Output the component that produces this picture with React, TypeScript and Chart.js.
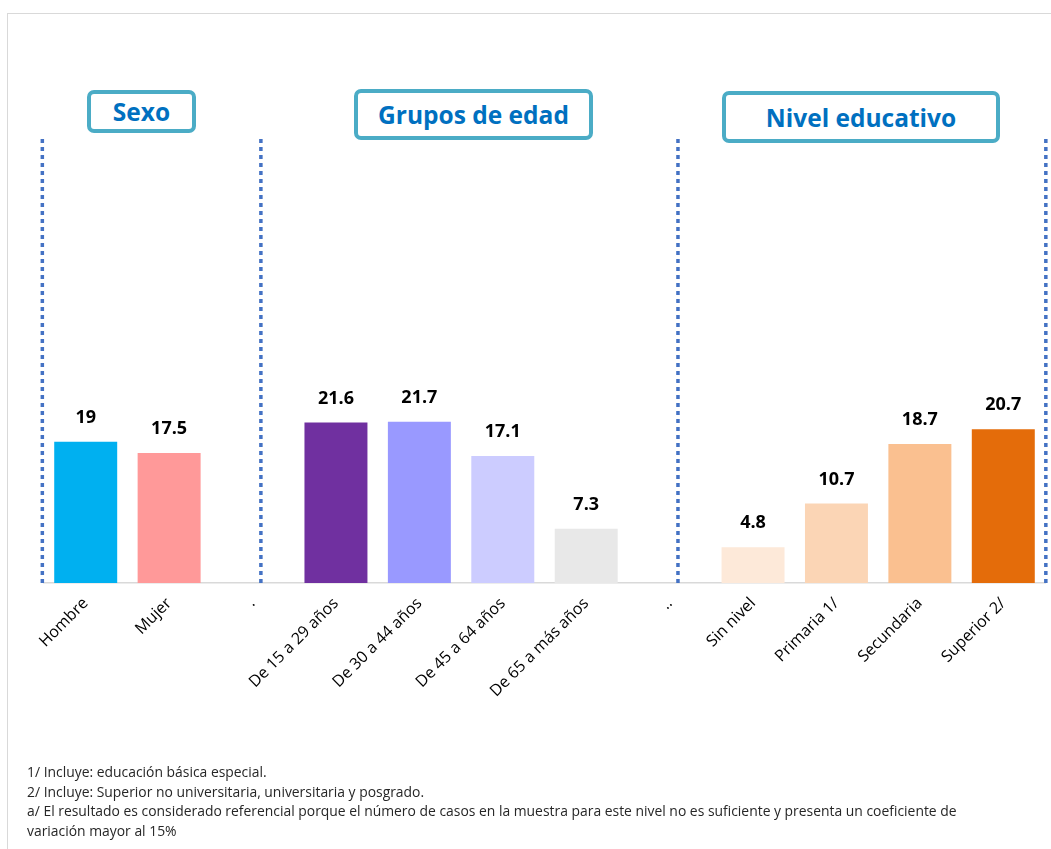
import React, { useEffect, useRef } from "react";
import { Chart, registerables } from "chart.js";

Chart.register(...registerables);

const categories = [
  "Hombre",
  "Mujer",
  ".",
  "De 15 a 29 años",
  "De 30 a 44 años",
  "De 45 a 64 años",
  "De 65 a más años",
  "..",
  "Sin nivel",
  "Primaria 1/",
  "Secundaria",
  "Superior 2/",
];
const values: (number | null)[] = [19, 17.5, null, 21.6, 21.7, 17.1, 7.3, null, 4.8, 10.7, 18.7, 20.7];
const barColors = [
  "#00B0F0",
  "#FF9999",
  "#FFFFFF",
  "#7030A0",
  "#9999FF",
  "#CCCCFF",
  "#E8E8E8",
  "#FFFFFF",
  "#FDE9D9",
  "#FBD5B5",
  "#FAC090",
  "#E46C0A",
];
const groupTitles = ["Sexo", "Grupos de edad", "Nivel educativo"];
// separator positions in category-index units
const separators = [-0.52, 2.1, 7.1, 11.51];
const footnotes = [
  "1/ Incluye: educación básica especial.",
  "2/ Incluye: Superior no universitaria, universitaria y posgrado.",
  "a/ El resultado es considerado referencial porque el número de casos en la muestra para este nivel no es suficiente y presenta un coeficiente de",
  "variación mayor al 15%",
];

const W = 1051;
const H = 849;

const boxStyles: React.CSSProperties[] = [
  { left: 87, top: 90, width: 109, height: 43 },
  { left: 354, top: 89, width: 239, height: 51 },
  { left: 722, top: 91, width: 278, height: 52 },
];

export default function App() {
  const ref = useRef<HTMLCanvasElement | null>(null);

  useEffect(() => {
    if (!ref.current) return;
    const sepPlugin = {
      id: "separators",
      afterDatasetsDraw(chart: any) {
        const { ctx, chartArea } = chart;
        const xs = chart.scales.x;
        const p0 = xs.getPixelForValue(0);
        const step = xs.getPixelForValue(1) - p0;
        ctx.save();
        ctx.strokeStyle = "#4472C4";
        ctx.lineWidth = 3.5;
        ctx.setLineDash([4, 4]);
        separators.forEach((s) => {
          const x = p0 + s * step;
          ctx.beginPath();
          ctx.moveTo(x, chartArea.top + 2);
          ctx.lineTo(x, chartArea.bottom + 2);
          ctx.stroke();
        });
        ctx.restore();
      },
    };
    const labelPlugin = {
      id: "valueLabels",
      afterDatasetsDraw(chart: any) {
        const { ctx } = chart;
        const meta = chart.getDatasetMeta(0);
        ctx.save();
        ctx.fillStyle = "#000000";
        ctx.font = "bold 18px 'Open Sans'";
        ctx.textAlign = "center";
        ctx.textBaseline = "middle";
        meta.data.forEach((el: any, i: number) => {
          const v = values[i];
          if (v === null || v === undefined) return;
          ctx.fillText(String(v), el.x, el.y - 24);
        });
        ctx.restore();
      },
    };

    const chart = new Chart(ref.current, {
      type: "bar",
      data: {
        labels: categories,
        datasets: [
          {
            data: values,
            backgroundColor: barColors,
            borderWidth: 0,
            barPercentage: 0.755,
            categoryPercentage: 1,
          },
        ],
      },
      options: {
        responsive: false,
        animation: false,
        layout: { padding: { left: 44, right: 6, top: 137, bottom: 0 } },
        plugins: { legend: { display: false }, tooltip: { enabled: false } },
        scales: {
          x: {
            grid: { display: false, drawTicks: false },
            border: { display: true, color: "#D9D9D9", width: 1.5 },
            ticks: {
              autoSkip: false,
              maxRotation: 45,
              minRotation: 45,
              padding: 11,
              color: "#000000",
              font: { family: "'Open Sans'", size: 16 },
            },
            afterFit: (scale: any) => {
              scale.height = H - 583;
            },
          },
          y: { display: false, min: 0, max: 60 },
        },
      },
      plugins: [sepPlugin, labelPlugin],
    });
    return () => chart.destroy();
  }, []);

  return (
    <div
      style={{
        position: "absolute",
        left: 0,
        top: 0,
        width: W,
        height: H,
        overflow: "hidden",
        background: "#fff",
        fontFamily: "'Open Sans', sans-serif",
      }}
    >
      <div
        style={{
          position: "absolute",
          left: 7,
          top: 13,
          width: W + 20,
          height: H + 20,
          borderLeft: "1.5px solid #D9D9D9",
          borderTop: "1.5px solid #D9D9D9",
        }}
      />
      <canvas ref={ref} width={W} height={H} style={{ position: "absolute", left: 0, top: 0, width: W, height: H }} />
      {groupTitles.map((t, i) => (
        <div
          key={t}
          style={{
            position: "absolute",
            ...boxStyles[i],
            boxSizing: "border-box",
            border: "4px solid #4BACC6",
            borderRadius: 7,
            background: "#fff",
            display: "flex",
            alignItems: "center",
            justifyContent: "center",
            color: "#0070C0",
            fontWeight: 700,
            fontSize: 24.5,
            letterSpacing: 0,
          }}
        >
          {t}
        </div>
      ))}
      <div
        style={{
          position: "absolute",
          left: 27,
          top: 762,
          fontSize: 13.9,
          lineHeight: "19.7px",
          color: "#262626",
          whiteSpace: "nowrap",
        }}
      >
        {footnotes.map((f) => (
          <div key={f}>{f}</div>
        ))}
      </div>
    </div>
  );
}
